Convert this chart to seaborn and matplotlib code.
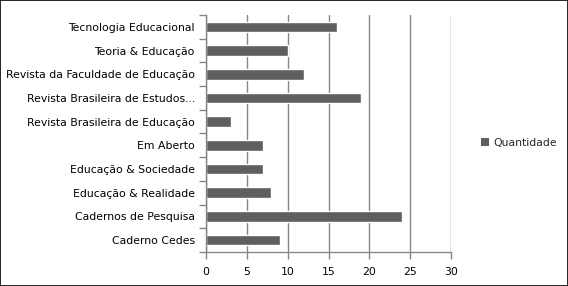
import matplotlib
matplotlib.use('Agg')
import matplotlib.pyplot as plt
import seaborn as sns
import pandas as pd
import numpy as np
from matplotlib.patches import Rectangle, Patch

periodicos = ['Tecnologia Educacional', 'Teoria & Educação', 'Revista da Faculdade de Educação',
              'Revista Brasileira de Estudos...', 'Revista Brasileira de Educação', 'Em Aberto',
              'Educação & Sociedade', 'Educação & Realidade', 'Cadernos de Pesquisa', 'Caderno Cedes']
quantidade = [16, 10, 12, 19, 3, 7, 7, 8, 24, 9]
xticks = [0, 5, 10, 15, 20, 25, 30]

df = pd.DataFrame({'periodico': periodicos, 'quantidade': quantidade})

sns.set_style('white')
plt.rcParams['font.family'] = ['DejaVu Sans']
plt.rcParams['font.size'] = 7.8

fig = plt.figure(figsize=(5.68, 2.86), dpi=100)
ax = fig.add_axes([0.3627, 0.119, 0.4314, 0.8285])

bar_color = '#5f5f5f'
sns.barplot(data=df, y='periodico', x='quantidade', orient='h', color=bar_color,
            width=0.45, saturation=1, ax=ax)

ax.set_xlim(0, 30)
ax.set_ylim(len(periodicos) - 0.5, -0.5)
ax.set_xticks(xticks)
ax.set_xlabel('')
ax.set_ylabel('')
ax.xaxis.grid(True, color='#868686', linewidth=1)
ax.set_axisbelow(True)

for side in ['top', 'right']:
    ax.spines[side].set_visible(False)
for side in ['left', 'bottom']:
    ax.spines[side].set_color('#868686')
    ax.spines[side].set_linewidth(1)

# ticks at category boundaries on y
ax.set_yticks(np.arange(-0.5, len(periodicos), 1), minor=True)
ax.tick_params(axis='y', which='both', left=True)
ax.tick_params(axis='x', which='both', bottom=True)
ax.tick_params(axis='y', which='major', length=0, pad=8, labelsize=7.8, colors='black')
ax.tick_params(axis='y', which='minor', length=5, color='#868686', width=1, direction='out')
ax.tick_params(axis='x', which='major', length=5, color='#868686', width=1, direction='out',
               labelsize=7.8, pad=6, labelcolor='black')

handle = Patch(facecolor=bar_color, edgecolor='none')
fig.legend([handle], ['Quantidade'], loc='center left', bbox_to_anchor=(0.83, 0.5),
           frameon=False, fontsize=7.8, handlelength=0.7, handleheight=0.7, handletextpad=0.4)

fig.patches.append(Rectangle((0, 0), 1, 1, transform=fig.transFigure, fill=False,
                             edgecolor='black', linewidth=1.2))

fig.savefig('out.png', dpi=100)
